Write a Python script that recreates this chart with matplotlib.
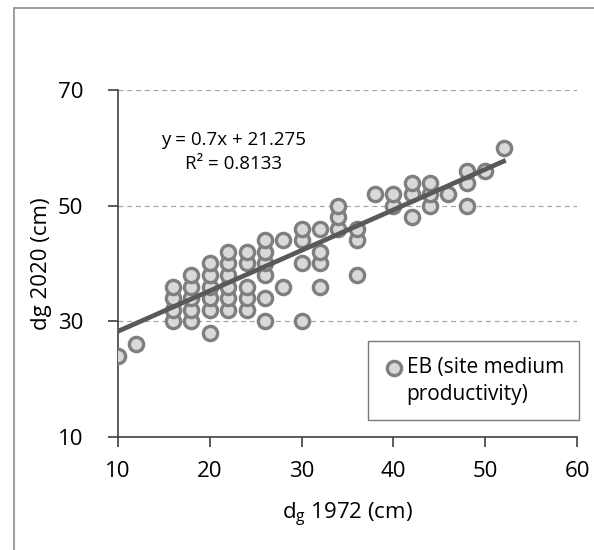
import matplotlib
matplotlib.use("Agg")
import matplotlib.pyplot as plt
from matplotlib.patches import Rectangle
import numpy as np

plt.rcParams['font.family'] = ['Open Sans', 'DejaVu Sans']

# dg 1972 (cm) and dg 2020 (cm)
dg_1972 = [10, 12,
           16, 16, 16, 16,
           18, 18, 18, 18, 18,
           20, 20, 20, 20, 20, 20,
           22, 22, 22, 22, 22, 22,
           24, 24, 24, 24, 24,
           26, 26, 26, 26, 26, 26,
           28, 28,
           30, 30, 30, 30,
           32, 32, 32, 32,
           34, 34, 34,
           36, 36, 36,
           38,
           40, 40,
           42, 42, 42,
           44, 44, 44,
           46,
           48, 48, 48,
           50,
           52]
dg_2020 = [24, 26,
           30, 32, 34, 36,
           30, 32, 34, 36, 38,
           28, 32, 34, 36, 38, 40,
           32, 34, 36, 38, 40, 42,
           32, 34, 36, 40, 42,
           30, 34, 38, 40, 42, 44,
           36, 44,
           30, 40, 44, 46,
           36, 40, 42, 46,
           46, 48, 50,
           38, 44, 46,
           52,
           50, 52,
           48, 52, 54,
           50, 52, 54,
           52,
           50, 54, 56,
           56,
           60]

slope = 0.7
intercept = 21.275
r2 = 0.8133

x_ticks = [10, 20, 30, 40, 50, 60]
y_ticks = [10, 30, 50, 70]

fig = plt.figure(figsize=(5.94, 5.5), dpi=100)
ax = fig.add_axes([0.1987, 0.2055, 0.7727, 0.6309])

# thin frame around the whole chart (only left/top visible in the crop)
fig.patches.append(Rectangle((14 / 594, -0.1), 1.2, 1.1 - 8 / 550,
                             transform=fig.transFigure, fill=False,
                             edgecolor='#8c8c8c', linewidth=1.2))

ax.set_xlim(10, 60)
ax.set_ylim(10, 70)
ax.set_xticks(x_ticks)
ax.set_yticks(y_ticks)
ax.tick_params(axis='both', direction='out', length=7, width=1.2,
               colors='#404040', labelsize=16, labelcolor='black')
ax.tick_params(axis='x', pad=10)
ax.tick_params(axis='y', pad=18)

for s in ['top', 'right']:
    ax.spines[s].set_visible(False)
for s in ['left', 'bottom']:
    ax.spines[s].set_color('#404040')
    ax.spines[s].set_linewidth(1.2)

# dashed grid at 30, 50, 70
for yv in y_ticks[1:]:
    ax.axhline(yv, color='#a6a6a6', linestyle=(0, (4, 3)), linewidth=0.9, zorder=0)

ax.scatter(dg_1972, dg_2020, s=105, facecolor='#d9d9d9', edgecolor='#7f7f7f',
           linewidth=2.4, zorder=3, label='EB (site medium\nproductivity)')

xl = np.array([min(dg_1972), max(dg_1972)])
ax.plot(xl, slope * xl + intercept, color='#595959', linewidth=3.4, zorder=4)

ax.text(22.6, 61.4, 'y = 0.7x + 21.275', ha='center', va='center', fontsize=13.5)
ax.text(22.6, 57.2, 'R² = 0.8133', ha='center', va='center', fontsize=13.5)

ax.set_xlabel('d$_\\mathregular{g}$ 1972 (cm)', fontsize=16, labelpad=14)
ax.set_ylabel('dg 2020 (cm)', fontsize=16, labelpad=4)

leg = ax.legend(loc='lower right', bbox_to_anchor=(1.005, 0.048), fontsize=15,
                frameon=True, fancybox=False, handletextpad=0.1,
                borderpad=0.75, handlelength=1.0, markerscale=1.0,
                borderaxespad=0.0, scatteryoffsets=[1.45])
for t in leg.get_texts():
    t.set_linespacing(1.35)
leg.get_frame().set_edgecolor('#595959')
leg.get_frame().set_linewidth(1.0)

plt.savefig('out.png', dpi=100)
